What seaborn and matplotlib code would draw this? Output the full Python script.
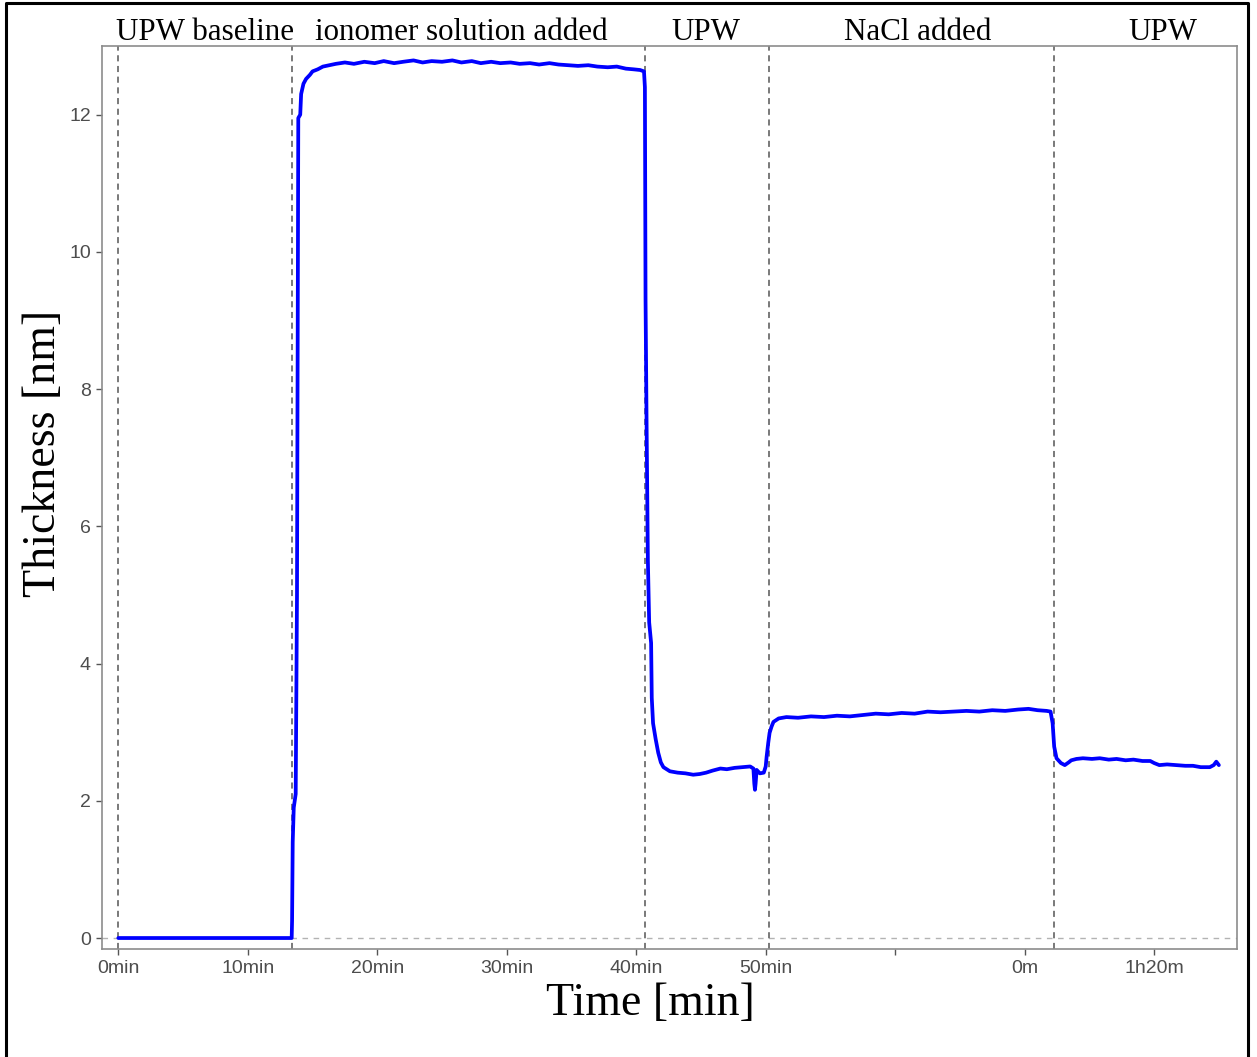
import numpy as np
import pandas as pd
import matplotlib
matplotlib.use("Agg")
import matplotlib.pyplot as plt
import matplotlib.transforms as mtransforms
from matplotlib.lines import Line2D
import seaborn as sns

# ---------------- data ----------------
time_min = [
    0.0, 3.0, 6.0, 9.0, 12.0, 13.39,
    13.42, 13.47, 13.55, 13.7, 13.8, 13.9, 14.05, 14.12, 14.3, 14.5, 14.8, 15.0,
    15.4, 15.8, 16.3, 16.8, 17.5, 18.2, 19.0, 19.8, 20.5, 21.3, 22.0, 22.8,
    23.5, 24.2, 25.0, 25.8, 26.5, 27.3, 28.0, 28.8, 29.5, 30.3, 31.0, 31.8,
    32.5, 33.3, 34.0, 34.8, 35.5, 36.3, 37.0, 37.8, 38.5, 39.2, 39.8, 40.3, 40.6,
    40.67, 40.72, 40.8, 40.9, 41.0, 41.15, 41.2, 41.3, 41.5, 41.7, 41.9, 42.1,
    42.6, 43.2, 43.8, 44.4, 44.9, 45.4, 45.9, 46.5, 47.0, 47.6, 48.2, 48.8,
    49.05, 49.12, 49.17, 49.22, 49.3, 49.55, 49.85, 50.0,
    50.07, 50.2, 50.3, 50.45, 50.6, 51.0, 51.6, 52.5, 53.5, 54.5, 55.5, 56.5,
    57.5, 58.5, 59.5, 60.5, 61.5, 62.5, 63.5, 64.5, 65.5, 66.5, 67.5, 68.5,
    69.5, 70.3, 71.0, 71.7, 72.0,
    72.16, 72.28, 72.46, 72.8, 73.1, 73.4, 73.6, 74.0, 74.5, 75.2, 75.8, 76.5,
    77.1, 77.8, 78.4, 79.1, 79.7, 80.0, 80.4, 81.0, 81.7, 82.4, 83.0, 83.6,
    84.3, 84.6, 84.8, 85.0,
]
thickness_nm = [
    0.0, 0.0, 0.0, 0.0, 0.0, 0.0,
    0.25, 1.4, 1.9, 2.1, 5.0, 11.95, 12.0, 12.3, 12.45, 12.52, 12.58, 12.63,
    12.66, 12.70, 12.72, 12.74, 12.76, 12.74, 12.77, 12.75, 12.78, 12.75, 12.77, 12.79,
    12.76, 12.78, 12.77, 12.79, 12.76, 12.78, 12.75, 12.77, 12.75, 12.76, 12.74, 12.75,
    12.73, 12.75, 12.73, 12.72, 12.71, 12.72, 12.70, 12.69, 12.70, 12.67, 12.66, 12.65, 12.63,
    12.4, 9.3, 7.5, 5.5, 4.6, 4.3, 3.5, 3.13, 2.9, 2.70, 2.56, 2.49,
    2.43, 2.41, 2.40, 2.38, 2.39, 2.41, 2.44, 2.47, 2.46, 2.48, 2.49, 2.50,
    2.47, 2.25, 2.16, 2.25, 2.45, 2.40, 2.41, 2.50,
    2.64, 2.85, 2.99, 3.08, 3.15, 3.20, 3.22, 3.21, 3.23, 3.22, 3.24, 3.23,
    3.25, 3.27, 3.26, 3.28, 3.27, 3.30, 3.29, 3.30, 3.31, 3.30, 3.32, 3.31,
    3.33, 3.34, 3.32, 3.31, 3.30,
    3.13, 2.79, 2.62, 2.55, 2.52, 2.56, 2.59, 2.61, 2.62, 2.61, 2.62, 2.60,
    2.61, 2.59, 2.60, 2.58, 2.58, 2.55, 2.52, 2.53, 2.52, 2.51, 2.51, 2.49,
    2.49, 2.52, 2.57, 2.52,
]
event_times = [0.0, 13.39, 40.67, 50.27, 72.28]
phase_labels = ["UPW baseline", "ionomer solution added", "UPW", "NaCl added", "UPW"]
phase_label_x = [6.7, 26.5, 45.4, 61.7, 80.7]
x_ticks = [0, 10, 20, 30, 40, 50, 60, 70, 80]
x_tick_labels = ["0min", "10min", "20min", "30min", "40min", "50min", "", "0m", "1h20m"]
y_ticks = [0, 2, 4, 6, 8, 10, 12]

df = pd.DataFrame({"time": time_min, "thickness": thickness_nm})

# ---------------- figure ----------------
sns.set_theme(style="white")
plt.rcParams["font.family"] = ["Liberation Sans", "DejaVu Sans"]

W, H = 1257, 1057
fig = plt.figure(figsize=(W / 100, H / 100), dpi=100)
fig.patch.set_facecolor("white")
L, R, T, B = 102, 1237, 46, 949
ax = fig.add_axes([L / W, 1 - B / H, (R - L) / W, (B - T) / H])

ax.axhline(0, color="#b3b3b3", lw=1.0, ls=(0, (4, 4)), zorder=1)
for t in event_times:
    ax.axvline(t, color="#555555", lw=1.1, ls=(0, (4, 3)), zorder=1)

sns.lineplot(data=df, x="time", y="thickness", ax=ax, color="#0000FF",
             lw=2.7, zorder=3, estimator=None, sort=False)

ax.set_xlim(-1.26, 86.4)
ax.set_ylim(-0.16, 13.0)
ax.set_xticks(x_ticks)
ax.set_xticklabels(x_tick_labels)
ax.set_yticks(y_ticks)
ax.set_yticklabels([str(v) for v in y_ticks])
ax.tick_params(axis="both", which="major", direction="out", length=4, width=1,
               color="#555555", labelcolor="#4d4d4d", labelsize=14, pad=4,
               bottom=True, left=True)
ax.set_xlabel("")
ax.set_ylabel("")
for sp in ax.spines.values():
    sp.set_color("#8c8c8c")
    sp.set_linewidth(1.2)
ax.grid(False)

serif = ["Liberation Serif", "DejaVu Serif"]
# phase titles above the panel
trans = mtransforms.blended_transform_factory(ax.transData, ax.transAxes)
for xl, lab in zip(phase_label_x, phase_labels):
    ax.text(xl, 1 + 6 / (B - T), lab, transform=trans, ha="center", va="baseline",
            fontsize=22.3, family=serif, color="black")

# axis titles
fig.text(650 / W, 1 - 1004 / H, "Time [min]", ha="center", va="center",
         fontsize=33, family=serif, color="black")
fig.text(44 / W, 1 - 453.5 / H, "Thickness [nm]", ha="center", va="center",
         rotation=90, fontsize=33, family=serif, color="black")

# outer frame (left, top, right)
fig.add_artist(Line2D([6 / W, 6 / W, 1248 / W, 1248 / W], [0, 1 - 2.5 / H, 1 - 2.5 / H, 0],
                      transform=fig.transFigure, color="black", lw=2.2))

fig.savefig("out.png", dpi=100)
